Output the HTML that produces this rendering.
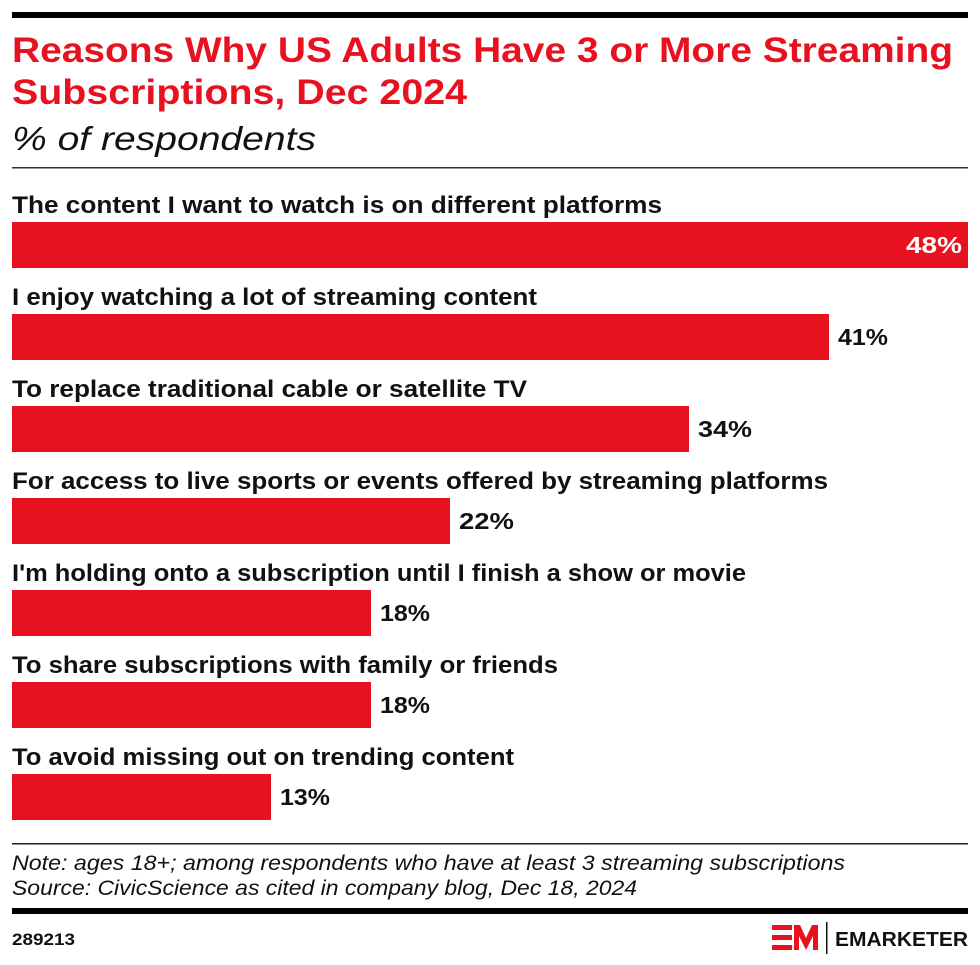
<!DOCTYPE html>
<html><head><meta charset="utf-8"><style>body{margin:0;background:#fff}svg{display:block}</style></head>
<body>
<svg width="980" height="965" xmlns="http://www.w3.org/2000/svg" font-family="Liberation Sans, sans-serif">
<rect x="12" y="12" width="956" height="6" fill="#000"/>
<text x="12" y="62" font-size="35" font-weight="bold" fill="#e8111f" textLength="941" lengthAdjust="spacingAndGlyphs">Reasons Why US Adults Have 3 or More Streaming</text>
<text x="12" y="104" font-size="35" font-weight="bold" fill="#e8111f" textLength="455" lengthAdjust="spacingAndGlyphs">Subscriptions, Dec 2024</text>
<text x="12" y="150" font-size="33" font-style="italic" fill="#111" textLength="304" lengthAdjust="spacingAndGlyphs">% of respondents</text>
<rect x="12" y="167" width="956" height="1.5" fill="#333"/>
<g font-size="24" font-weight="bold" fill="#111">
<text x="12" y="213" textLength="650" lengthAdjust="spacingAndGlyphs">The content I want to watch is on different platforms</text>
<text x="12" y="305" textLength="525" lengthAdjust="spacingAndGlyphs">I enjoy watching a lot of streaming content</text>
<text x="12" y="397" textLength="515" lengthAdjust="spacingAndGlyphs">To replace traditional cable or satellite TV</text>
<text x="12" y="489" textLength="816" lengthAdjust="spacingAndGlyphs">For access to live sports or events offered by streaming platforms</text>
<text x="12" y="581" textLength="734" lengthAdjust="spacingAndGlyphs">I'm holding onto a subscription until I finish a show or movie</text>
<text x="12" y="673" textLength="546" lengthAdjust="spacingAndGlyphs">To share subscriptions with family or friends</text>
<text x="12" y="765" textLength="502" lengthAdjust="spacingAndGlyphs">To avoid missing out on trending content</text>
</g>
<g fill="#e8111f">
<rect x="12" y="222" width="956" height="46"/>
<rect x="12" y="314" width="817" height="46"/>
<rect x="12" y="406" width="677" height="46"/>
<rect x="12" y="498" width="438" height="46"/>
<rect x="12" y="590" width="359" height="46"/>
<rect x="12" y="682" width="359" height="46"/>
<rect x="12" y="774" width="259" height="46"/>
</g>
<g font-size="23" font-weight="bold" fill="#111">
<text x="906" y="253" fill="#fff" textLength="56" lengthAdjust="spacingAndGlyphs">48%</text>
<text x="838" y="345" textLength="50" lengthAdjust="spacingAndGlyphs">41%</text>
<text x="698" y="437" textLength="54" lengthAdjust="spacingAndGlyphs">34%</text>
<text x="459" y="529" textLength="55" lengthAdjust="spacingAndGlyphs">22%</text>
<text x="380" y="621" textLength="50" lengthAdjust="spacingAndGlyphs">18%</text>
<text x="380" y="713" textLength="50" lengthAdjust="spacingAndGlyphs">18%</text>
<text x="280" y="805" textLength="50" lengthAdjust="spacingAndGlyphs">13%</text>
</g>
<rect x="12" y="843" width="956" height="1.5" fill="#222"/>
<g font-size="21" font-style="italic" fill="#111">
<text x="12" y="870" textLength="833" lengthAdjust="spacingAndGlyphs">Note: ages 18+; among respondents who have at least 3 streaming subscriptions</text>
<text x="12" y="895" textLength="625" lengthAdjust="spacingAndGlyphs">Source: CivicScience as cited in company blog, Dec 18, 2024</text>
</g>
<rect x="12" y="908" width="956" height="6" fill="#000"/>
<text x="12" y="945" font-size="17" font-weight="bold" fill="#111" textLength="63" lengthAdjust="spacingAndGlyphs">289213</text>
<g fill="#e8111f">
<rect x="772" y="925" width="20" height="5"/>
<rect x="772" y="935" width="20" height="5"/>
<rect x="772" y="945" width="20" height="5"/>
<polygon points="794,925 800,925 806,938 812,925 818,925 818,950 813,950 813,936 806,950 799,936 799,950 794,950"/>
</g>
<rect x="826" y="922" width="1.5" height="32" fill="#111"/>
<text x="835" y="946" font-size="20" font-weight="bold" fill="#111" textLength="133" lengthAdjust="spacingAndGlyphs">EMARKETER</text>
</svg>
</body></html>
